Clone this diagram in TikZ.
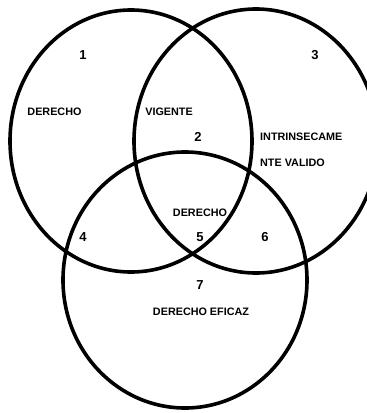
\documentclass[tikz,border=0pt]{standalone}
\usepackage{fontspec}
\setmainfont{Liberation Sans}
\usetikzlibrary{positioning}

\begin{document}
\begin{tikzpicture}[x=1pt,y=1pt,
  ring/.style={draw=black,line width=3.6pt},
  txt/.style={font=\fontsize{10.8}{26}\selectfont\bfseries,inner sep=0pt,align=left},
  num/.style={font=\fontsize{13}{15}\selectfont\bfseries,inner sep=0pt}]
  \useasboundingbox (0,0) rectangle (367,-413);
  \clip (0,0) rectangle (367,-413);
  % Circulos
  \draw[ring] (131,-141) ellipse [x radius=121pt,y radius=131pt];
  \draw[ring] (256,-141) ellipse [x radius=122pt,y radius=132pt];
  \draw[ring] (185,-280) ellipse [x radius=122pt,y radius=128pt];
  % Numeros
  \node[num] (n1) at (83,-55) {1};
  \node[num] (n2) at (198,-137) {2};
  \node[num] (n3) at (315,-55) {3};
  \node[num] (n4) at (83,-237) {4};
  \node[num] (n5) at (200,-237) {5};
  \node[num] (n6) at (265,-237) {6};
  \node[num] (n7) at (200,-285) {7};
  % Textos
  \node[txt] (derecho) at (54.5,-112) {DERECHO};
  \node[txt] (vigente) at (169,-112) {VIGENTE};
  \node[txt,anchor=west] (valido) at (260,-150) {INTRINSECAME\\NTE VALIDO};
  \node[txt] (derechoc) at (200,-213) {DERECHO};
  \node[txt] (eficaz) at (201,-312) {DERECHO EFICAZ};
\end{tikzpicture}
\end{document}
